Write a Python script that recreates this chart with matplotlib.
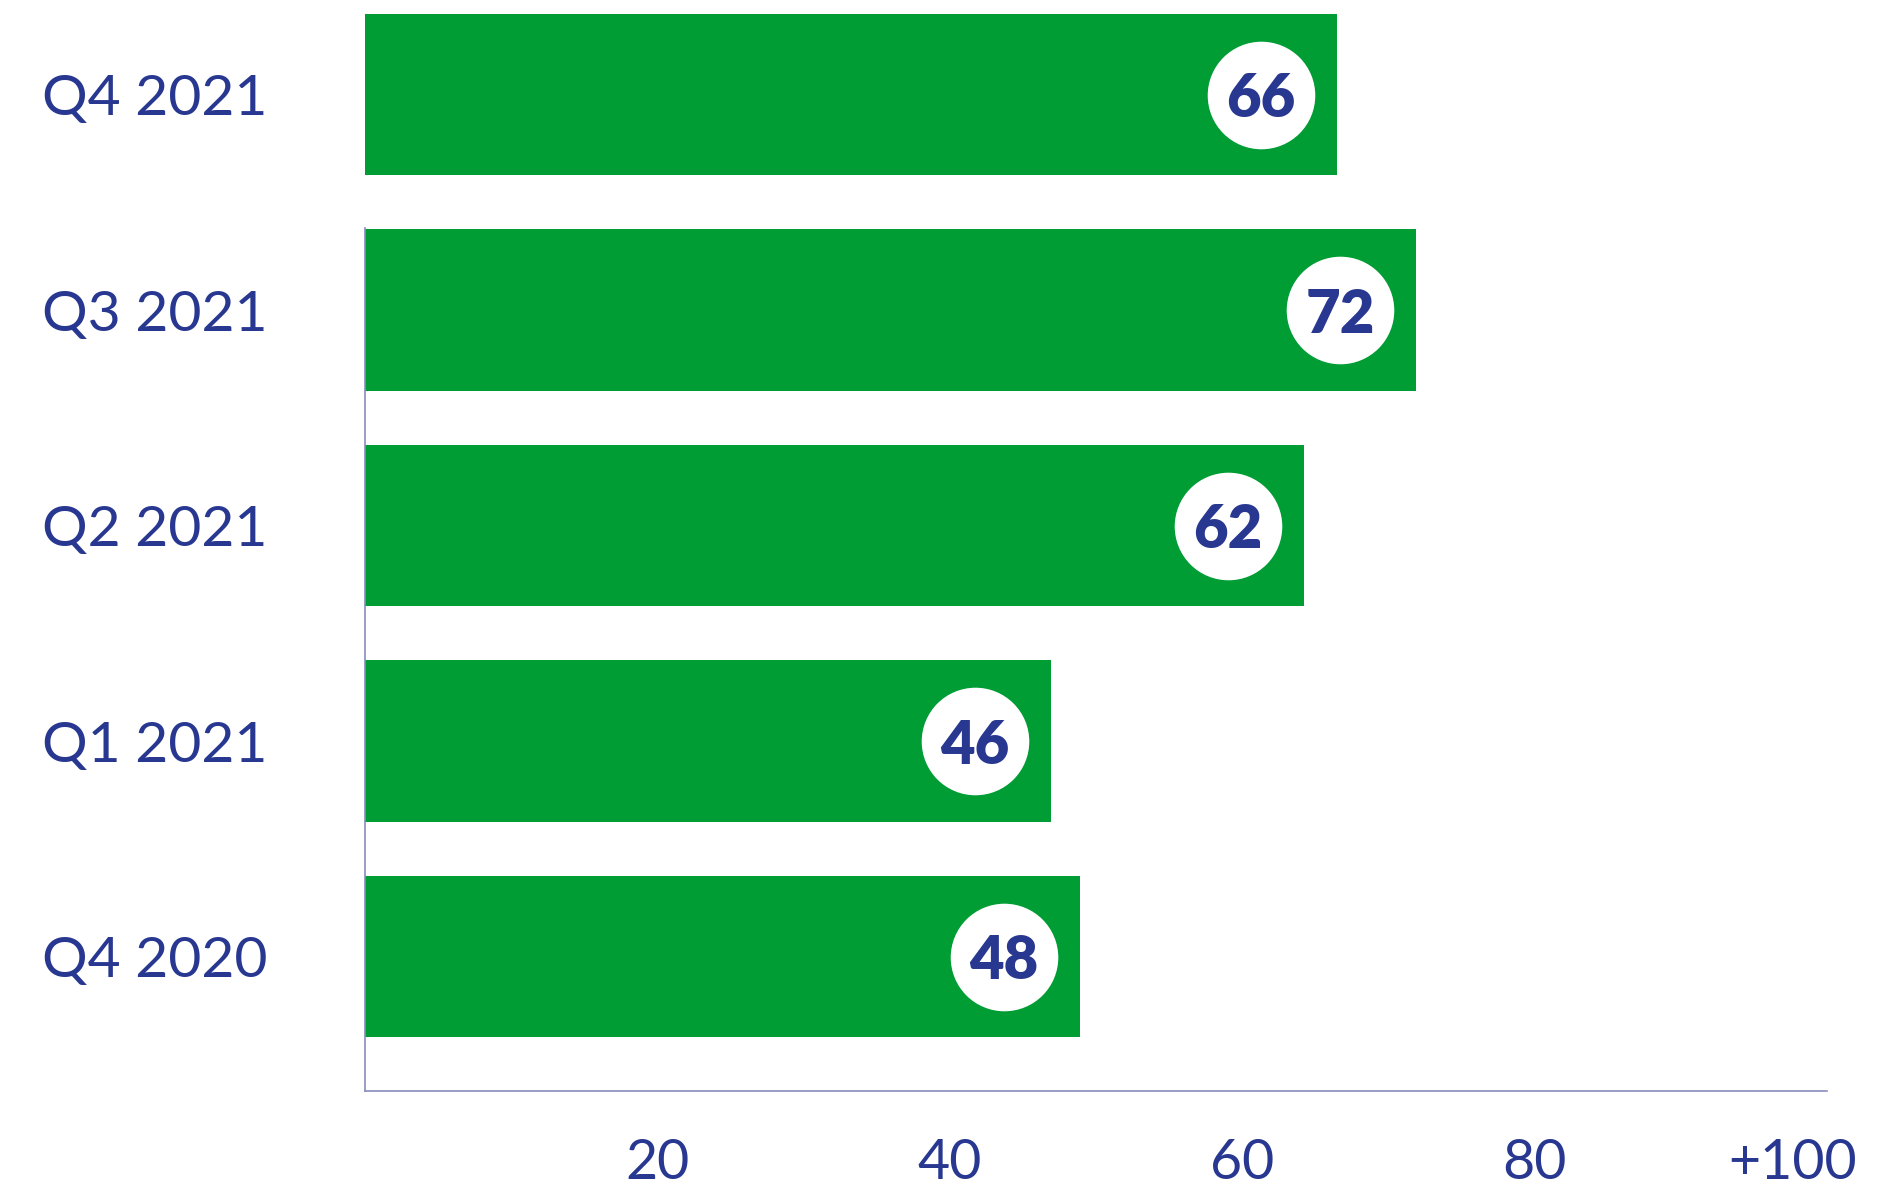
import matplotlib.pyplot as plt
from matplotlib.transforms import ScaledTranslation

# data, bottom to top
quarters = ["Q4 2020", "Q1 2021", "Q2 2021", "Q3 2021", "Q4 2021"]
scores = [48, 46, 62, 72, 66]
# bar lengths as drawn in the source (slightly off the printed scores)
bar_lengths = [48.9, 46.9, 64.2, 71.9, 66.5]
tick_values = [20, 40, 60, 80, 100]
tick_labels = ["20", "40", "60", "80", "+100"]

green = "#009c34"
navy = "#283891"
axis_col = "#8a8cbf"

plt.rcParams['font.family'] = ['Lato', 'DejaVu Sans']

fig = plt.figure(figsize=(18.78, 11.88), dpi=100)
ax = fig.add_axes([0.1944, 0.0816, 0.7784, 0.9184])

ypos = list(range(len(quarters)))
ax.barh(ypos, bar_lengths, height=0.75, color=green, zorder=2)

# white discs holding the values
offset = 5.2
ax.scatter([b - offset for b in bar_lengths], ypos, s=6000, color="white",
           zorder=3, linewidths=0)
for y, b, s in zip(ypos, bar_lengths, scores):
    ax.text(b - offset, y, str(s), ha="center", va="center_baseline",
            fontsize=43, fontweight="heavy", color=navy, zorder=4)

ax.set_xlim(0, 100)
ax.set_ylim(-0.624, 4.4385)

ax.set_yticks(ypos)
ax.set_yticklabels(quarters, fontsize=41, color=navy)
ax.set_xticks(tick_values)
ax.set_xticklabels(tick_labels, fontsize=40, color=navy)
ax.tick_params(axis="y", length=0, pad=70)
ax.tick_params(axis="x", length=0, pad=34)

# the "+100" label sits a bit left of its tick
lab = ax.get_xticklabels()[-1]
lab.set_transform(lab.get_transform() + ScaledTranslation(-34 / 100, 0, fig.dpi_scale_trans))

for side in ["top", "right"]:
    ax.spines[side].set_visible(False)
ax.spines["left"].set_color(axis_col)
ax.spines["bottom"].set_color(axis_col)
ax.spines["left"].set_linewidth(1.2)
ax.spines["bottom"].set_linewidth(1.2)
ax.spines["left"].set_bounds(-0.624, 3.38)

fig.savefig("out.png", dpi=100)
